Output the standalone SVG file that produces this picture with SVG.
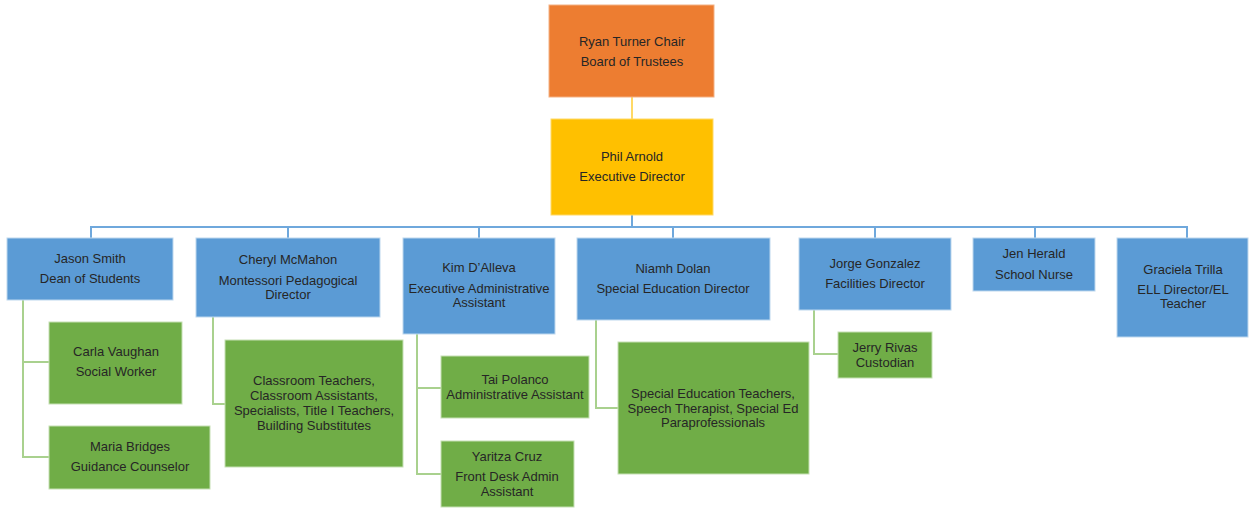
<svg xmlns="http://www.w3.org/2000/svg" width="1250" height="508" viewBox="0 0 1250 508">
<style>
text{font-family:"Liberation Sans",Arial,sans-serif;font-size:13px;fill:#262626;text-anchor:middle}
.o{fill:#ED7D31;stroke:#F4B183;stroke-width:1}
.y{fill:#FFC000;stroke:#FFD966;stroke-width:1}
.b{fill:#5B9BD5;stroke:#BDD7EE;stroke-width:1}
.g{fill:#70AD47;stroke:#C5E0B4;stroke-width:1}
.cb{fill:none;stroke:#6FA8DC;stroke-width:2}
.cg{fill:none;stroke:#A9D18E;stroke-width:2}
.cy{fill:none;stroke:#FFD966;stroke-width:2}
</style>
<rect width="1250" height="508" fill="#fff"/>
<g id="connectors">
<path class="cy" d="M632 97V119"/>
<path class="cb" d="M632 215V227M91 238V227H1187V238M288 227V238M479 227V238M673 227V238M875 227V238M1035 227V238"/>
<path class="cg" d="M23 300V457H49M23 362H49"/>
<path class="cg" d="M213 317V404H225"/>
<path class="cg" d="M417 334V474H441M417 388H441"/>
<path class="cg" d="M596 320V408H618"/>
<path class="cg" d="M814 310V354H838"/>
</g>
<g id="ryan"><rect class="o" x="549" y="5" width="165" height="92"/><text x="632" y="46">Ryan Turner Chair</text><text x="632" y="66">Board of Trustees</text></g>
<g id="phil"><rect class="y" x="551" y="119" width="162" height="96"/><text x="632" y="161">Phil Arnold</text><text x="632" y="181">Executive Director</text></g>
<g id="jason"><rect class="b" x="7" y="238" width="166" height="62"/><text x="90" y="263">Jason Smith</text><text x="90" y="283">Dean of Students</text></g>
<g id="cheryl"><rect class="b" x="196" y="238" width="184" height="79"/><text x="288" y="264">Cheryl McMahon</text><text x="288" y="285">Montessori Pedagogical</text><text x="288" y="299">Director</text></g>
<g id="kim"><rect class="b" x="403" y="238" width="152" height="96"/><text x="479" y="272">Kim D’Alleva</text><text x="479" y="293">Executive Administrative</text><text x="479" y="307">Assistant</text></g>
<g id="niamh"><rect class="b" x="577" y="238" width="193" height="82"/><text x="673" y="273">Niamh Dolan</text><text x="673" y="293">Special Education Director</text></g>
<g id="jorge"><rect class="b" x="799" y="238" width="152" height="72"/><text x="875" y="268">Jorge Gonzalez</text><text x="875" y="288">Facilities Director</text></g>
<g id="jen"><rect class="b" x="973" y="238" width="122" height="53"/><text x="1034" y="258">Jen Herald</text><text x="1034" y="279">School Nurse</text></g>
<g id="graciela"><rect class="b" x="1117" y="238" width="131" height="99"/><text x="1183" y="274">Graciela Trilla</text><text x="1183" y="294">ELL Director/EL</text><text x="1183" y="308">Teacher</text></g>
<g id="carla"><rect class="g" x="49" y="322" width="133" height="82"/><text x="116" y="356">Carla Vaughan</text><text x="116" y="376">Social Worker</text></g>
<g id="maria"><rect class="g" x="49" y="426" width="161" height="63"/><text x="130" y="451">Maria Bridges</text><text x="130" y="471">Guidance Counselor</text></g>
<g id="classroom"><rect class="g" x="225" y="340" width="178" height="127"/><text x="314" y="385">Classroom Teachers,</text><text x="314" y="400">Classroom Assistants,</text><text x="314" y="415">Specialists, Title I Teachers,</text><text x="314" y="430">Building Substitutes</text></g>
<g id="tai"><rect class="g" x="441" y="356" width="148" height="62"/><text x="515" y="384">Tai Polanco</text><text x="515" y="399">Administrative Assistant</text></g>
<g id="yaritza"><rect class="g" x="441" y="441" width="133" height="66"/><text x="507" y="461">Yaritza Cruz</text><text x="507" y="481">Front Desk Admin</text><text x="507" y="496">Assistant</text></g>
<g id="sped"><rect class="g" x="618" y="342" width="191" height="132"/><text x="713" y="398">Special Education Teachers,</text><text x="713" y="413">Speech Therapist, Special Ed</text><text x="713" y="427">Paraprofessionals</text></g>
<g id="jerry"><rect class="g" x="838" y="332" width="94" height="46"/><text x="885" y="352">Jerry Rivas</text><text x="885" y="367">Custodian</text></g>
</svg>
